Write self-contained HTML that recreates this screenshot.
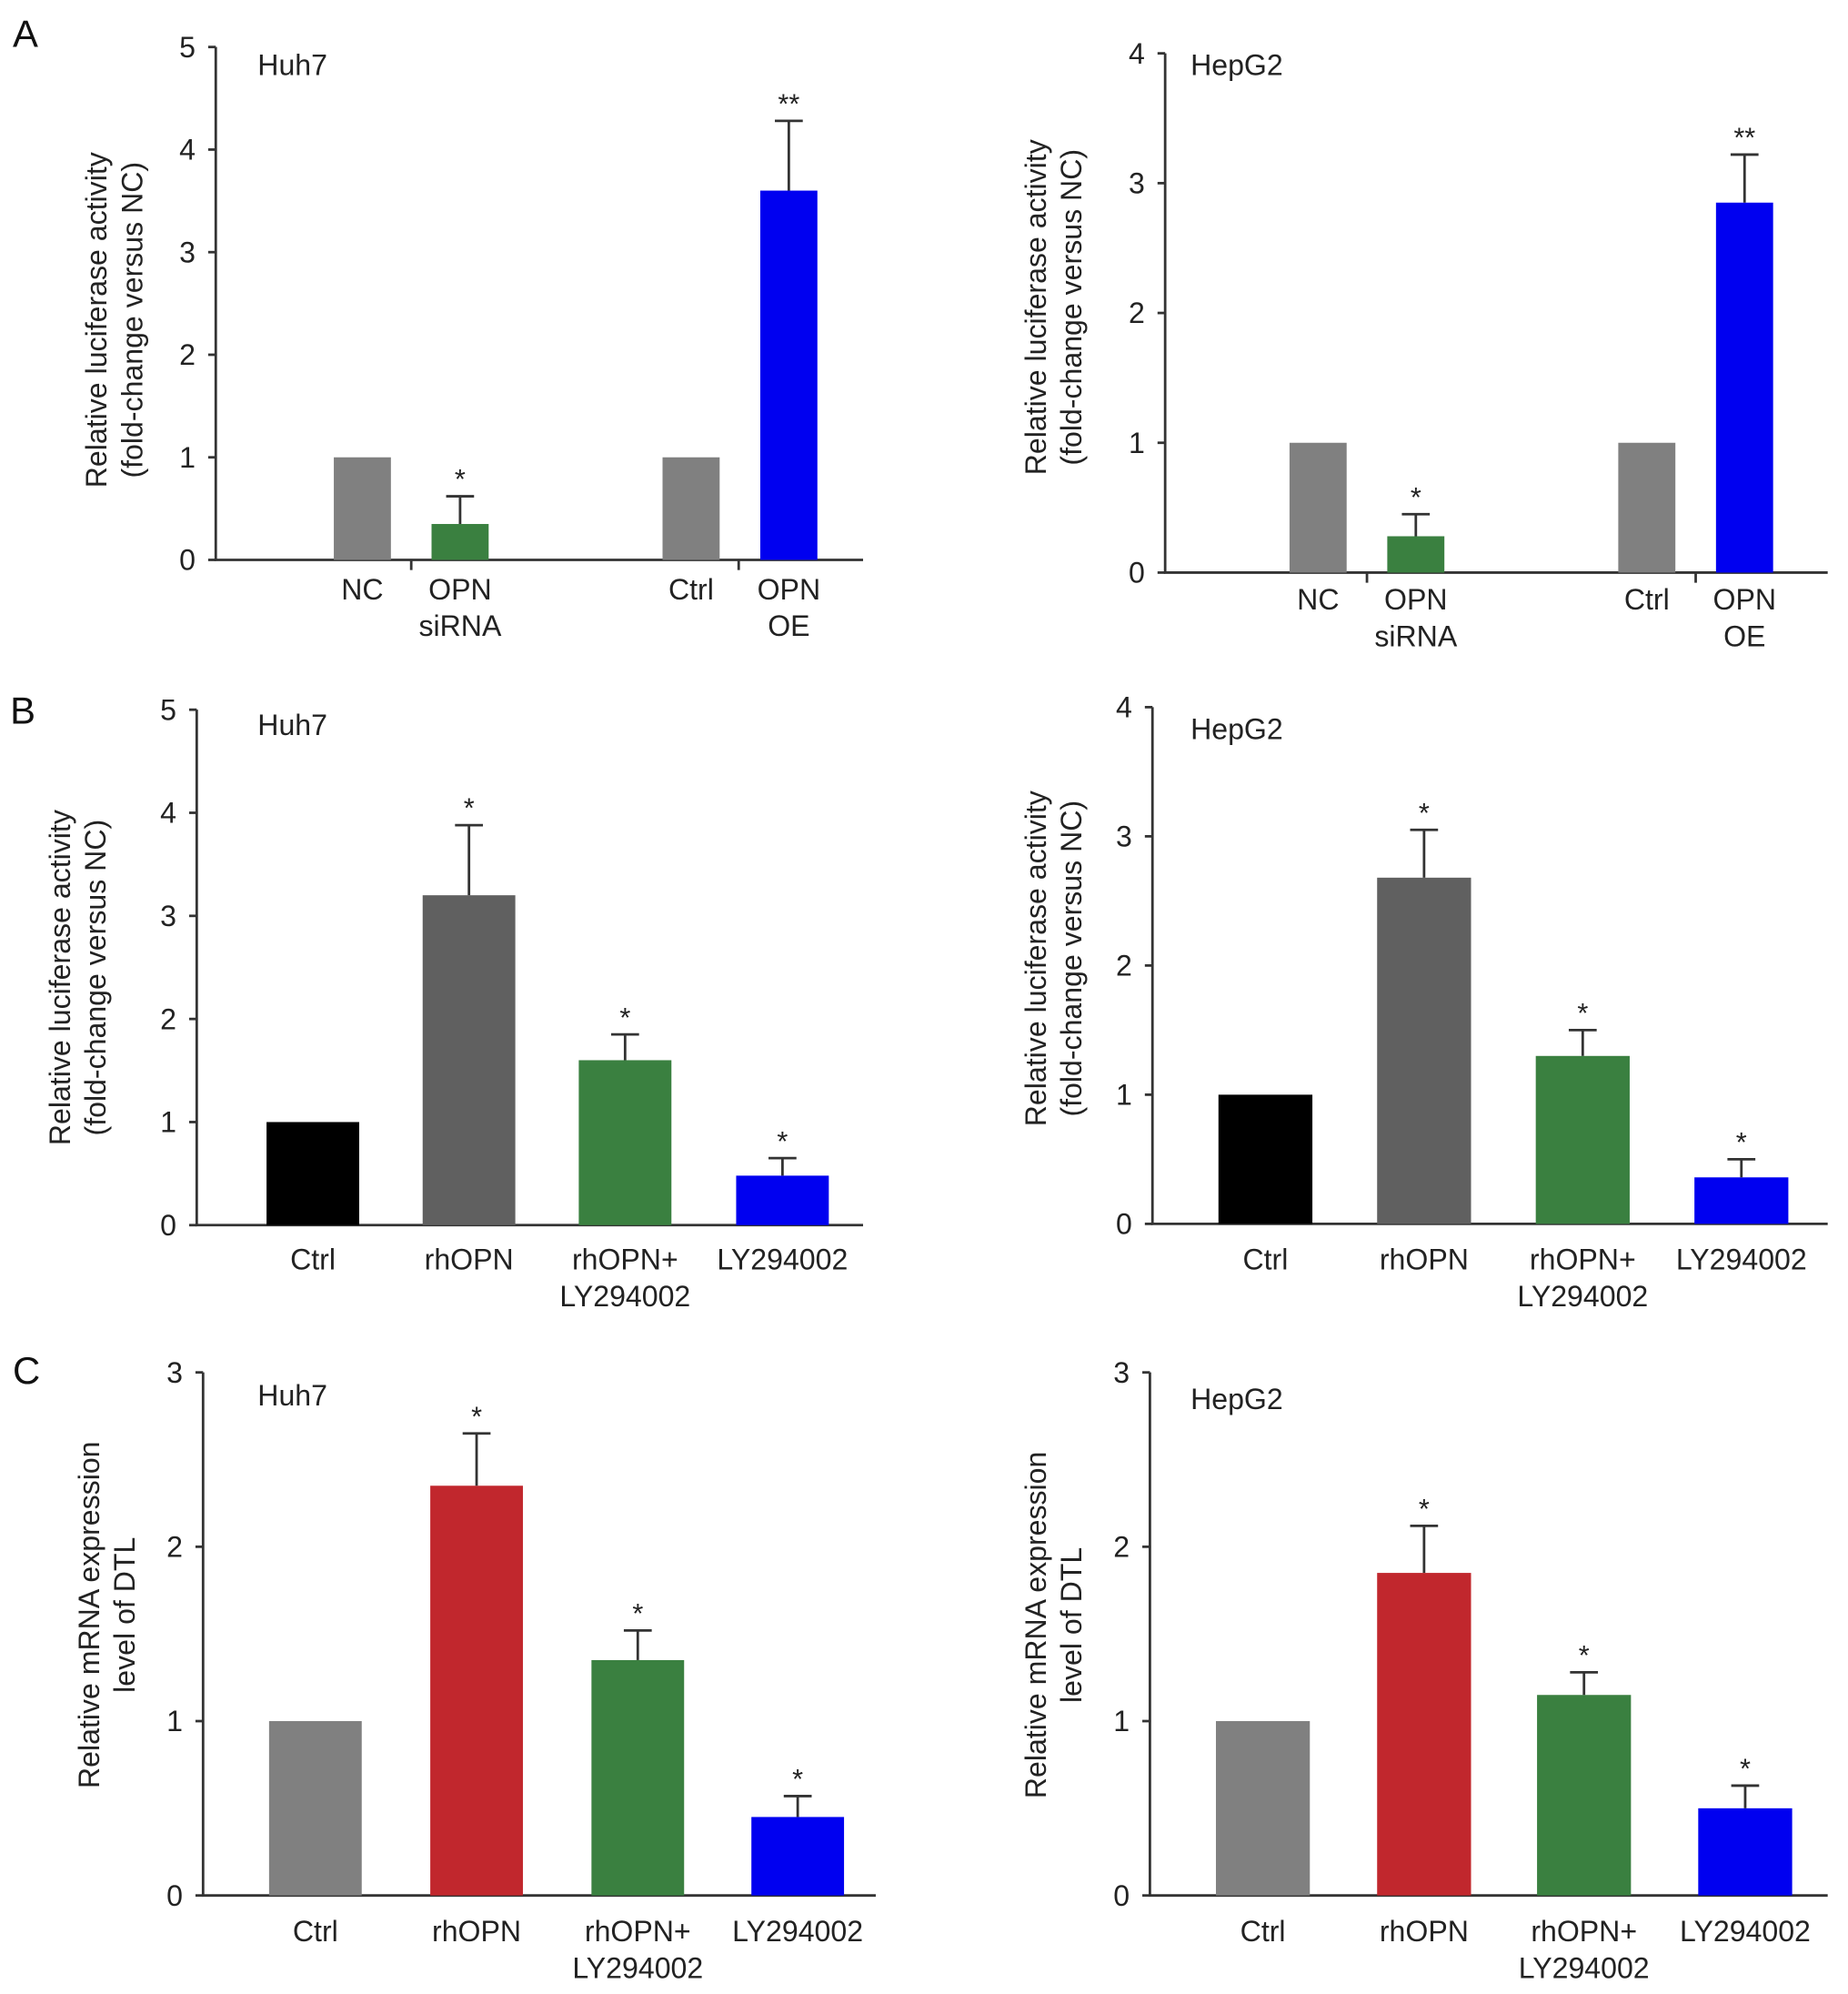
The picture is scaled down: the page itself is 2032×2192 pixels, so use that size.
<!DOCTYPE html>
<html><head><meta charset="utf-8"><style>
html,body{margin:0;padding:0;background:#fff}
svg{display:block;font-family:"Liberation Sans",Arial,sans-serif}
</style></head><body>
<svg id="fig" width="2032" height="2192" viewBox="0 0 1456 1570.6" xmlns="http://www.w3.org/2000/svg"></svg>
<script>
// Panel A - Huh7
const aLeftCats = [["NC"],["OPN","siRNA"],["Ctrl"],["OPN","OE"]];
const aLeftVals = [1, 0.35, 1, 3.6];
const aLeftErr = [null, 0.62, null, 4.28];
const aLeftStars = ["", "*", "", "**"];
// Panel A - HepG2
const aRightCats = [["NC"],["OPN","siRNA"],["Ctrl"],["OPN","OE"]];
const aRightVals = [1, 0.28, 1, 2.85];
const aRightErr = [null, 0.45, null, 3.22];
const aRightStars = ["", "*", "", "**"];
// Panel B
const bCats = [["Ctrl"],["rhOPN"],["rhOPN+","LY294002"],["LY294002"]];
const bLeftVals = [1, 3.2, 1.6, 0.48];
const bLeftErr = [null, 3.88, 1.85, 0.65];
const bRightVals = [1, 2.68, 1.3, 0.36];
const bRightErr = [null, 3.05, 1.5, 0.5];
const bStars = ["", "*", "*", "*"];
// Panel C
const cLeftVals = [1, 2.35, 1.35, 0.45];
const cLeftErr = [null, 2.65, 1.52, 0.57];
const cRightVals = [1, 1.85, 1.15, 0.5];
const cRightErr = [null, 2.12, 1.28, 0.63];
const ticks5 = [0,1,2,3,4,5];
const ticks4 = [0,1,2,3,4];
const ticks3 = [0,1,2,3];

const svg = document.getElementById('fig');
const NS = 'http://www.w3.org/2000/svg';
function mk(tag, attrs, parent, text){
  const e = document.createElementNS(NS, tag);
  for (const k in attrs) e.setAttribute(k, attrs[k]);
  if (text !== undefined) e.textContent = text;
  (parent||svg).appendChild(e);
  return e;
}
function panel(cfg){
  const g = mk('g', {});
  
  
  const ymax = cfg.ticks[cfg.ticks.length-1];
  const ys = v => cfg.y0 - (cfg.y0 - cfg.yTop) * v / ymax;
  const ax = mk('path', {d:`M${cfg.ax} ${cfg.yTop}V${cfg.y0}H${cfg.axEnd}`, stroke:'#333', 'stroke-width':2, fill:'none'}, g);
  
  
  cfg.ticks.forEach(t => {
    mk('line', {x1:cfg.ax-6, x2:cfg.ax, y1:ys(t), y2:ys(t), stroke:'#333','stroke-width':2}, g);
    const tl = mk('text', {x:cfg.ax-16, y:ys(t)+8, 'text-anchor':'end','font-size':23,fill:'#222'}, g, String(t));
    
    
  });
  (cfg.sepTicks||[]).forEach(x => mk('line', {x1:x,x2:x,y1:cfg.y0,y2:cfg.y0+8,stroke:'#333','stroke-width':2}, g));
  cfg.vals.forEach((v, i) => {
    const x = cfg.barX[i], w = cfg.barW;
    const r = mk('rect', {x:x, y:ys(v), width:w, height:cfg.y0 - ys(v), fill:cfg.colors[i]}, g);
    
    
    const e = cfg.err[i];
    if (e !== null && e !== undefined) {
      const cx = x + w/2;
      mk('line', {x1:cx,x2:cx,y1:ys(v),y2:ys(e),stroke:'#333','stroke-width':2}, g);
      mk('line', {x1:cx-11,x2:cx+11,y1:ys(e),y2:ys(e),stroke:'#333','stroke-width':2}, g);
      const s = mk('text', {x:cx, y:ys(e)-6, 'text-anchor':'middle','font-size':22,fill:'#222'}, g, cfg.stars[i]);
      
      
    }
    cfg.cats[i].forEach((line, j) => {
      const t = mk('text', {x:x + w/2 + (cfg.labelDx||0), y:cfg.y0 + cfg.labelDy + j*29, 'text-anchor':'middle','font-size':23,fill:'#222'}, g, line);
      
      
    });
  });
  const title = mk('text', {x:cfg.titleX, y:cfg.titleY, 'font-size':23, fill:'#222'}, g, cfg.title);
  
  
  const yt = mk('text', {transform:`translate(${cfg.ytX},${cfg.ytY}) rotate(-90)`, 'text-anchor':'middle','font-size':23,fill:'#222'}, g);
  
  
  cfg.ytLines.forEach((l, j) => mk('tspan', {x:0, dy: j===0 ? 0 : 28}, yt, l));
}
const lucTitle = ["Relative luciferase activity","(fold-change versus NC)"];
const mrnaTitle = ["Relative mRNA expression","level of DTL"];
const gray='#808080', green='#3a8040', blue='#0000f0', red='#c1272d', dgray='#606060', black='#000';

panel({name:'panel-a-huh7', title:'Huh7', titleX:203, titleY:59, ax:170, axEnd:680, y0:441, yTop:37, ticks:ticks5,
  cats:aLeftCats, vals:aLeftVals, err:aLeftErr, stars:aLeftStars, barX:[263,340,522,599], barW:45,
  colors:[gray,green,gray,blue], labelDy:31, sepTicks:[324,582], ytX:84, ytY:252, ytLines:lucTitle});
panel({name:'panel-a-hepg2', title:'HepG2', titleX:938, titleY:59, ax:918, axEnd:1440, y0:451, yTop:42, ticks:ticks4,
  cats:aRightCats, vals:aRightVals, err:aRightErr, stars:aRightStars, barX:[1016,1093,1275,1352], barW:45,
  colors:[gray,green,gray,blue], labelDy:29, sepTicks:[1077,1336], ytX:824, ytY:242, ytLines:lucTitle});
panel({name:'panel-b-huh7', title:'Huh7', titleX:203, titleY:579, ax:155, axEnd:680, y0:965, yTop:559, ticks:ticks5,
  cats:bCats, vals:bLeftVals, err:bLeftErr, stars:bStars, barX:[210,333,456,580], barW:73,
  colors:[black,dgray,green,blue], labelDy:35, ytX:55, ytY:770, ytLines:lucTitle});
panel({name:'panel-b-hepg2', title:'HepG2', titleX:938, titleY:582, ax:908, axEnd:1440, y0:964, yTop:557, ticks:ticks4,
  cats:bCats, vals:bRightVals, err:bRightErr, stars:bStars, barX:[960,1085,1210,1335], barW:74,
  colors:[black,dgray,green,blue], labelDy:36, ytX:824, ytY:755, ytLines:lucTitle});
panel({name:'panel-c-huh7', title:'Huh7', titleX:203, titleY:1107, ax:160, axEnd:690, y0:1493, yTop:1081, ticks:ticks3,
  cats:bCats, vals:cLeftVals, err:cLeftErr, stars:bStars, barX:[212,339,466,592], barW:73,
  colors:[gray,red,green,blue], labelDy:36, ytX:78, ytY:1272, ytLines:mrnaTitle});
panel({name:'panel-c-hepg2', title:'HepG2', titleX:938, titleY:1110, ax:906, axEnd:1440, y0:1493, yTop:1081, ticks:ticks3,
  cats:bCats, vals:cRightVals, err:cRightErr, stars:bStars, barX:[958,1085,1211,1338], barW:74,
  colors:[gray,red,green,blue], labelDy:36, ytX:824, ytY:1280, ytLines:mrnaTitle});

[["A",10,37],["B",8,570],["C",10,1090]].forEach(p => {
  const t = mk('text', {x:p[1], y:p[2], 'font-size':30, fill:'#111'}, svg, p[0]);
  
  
});
</script>
</body></html>
